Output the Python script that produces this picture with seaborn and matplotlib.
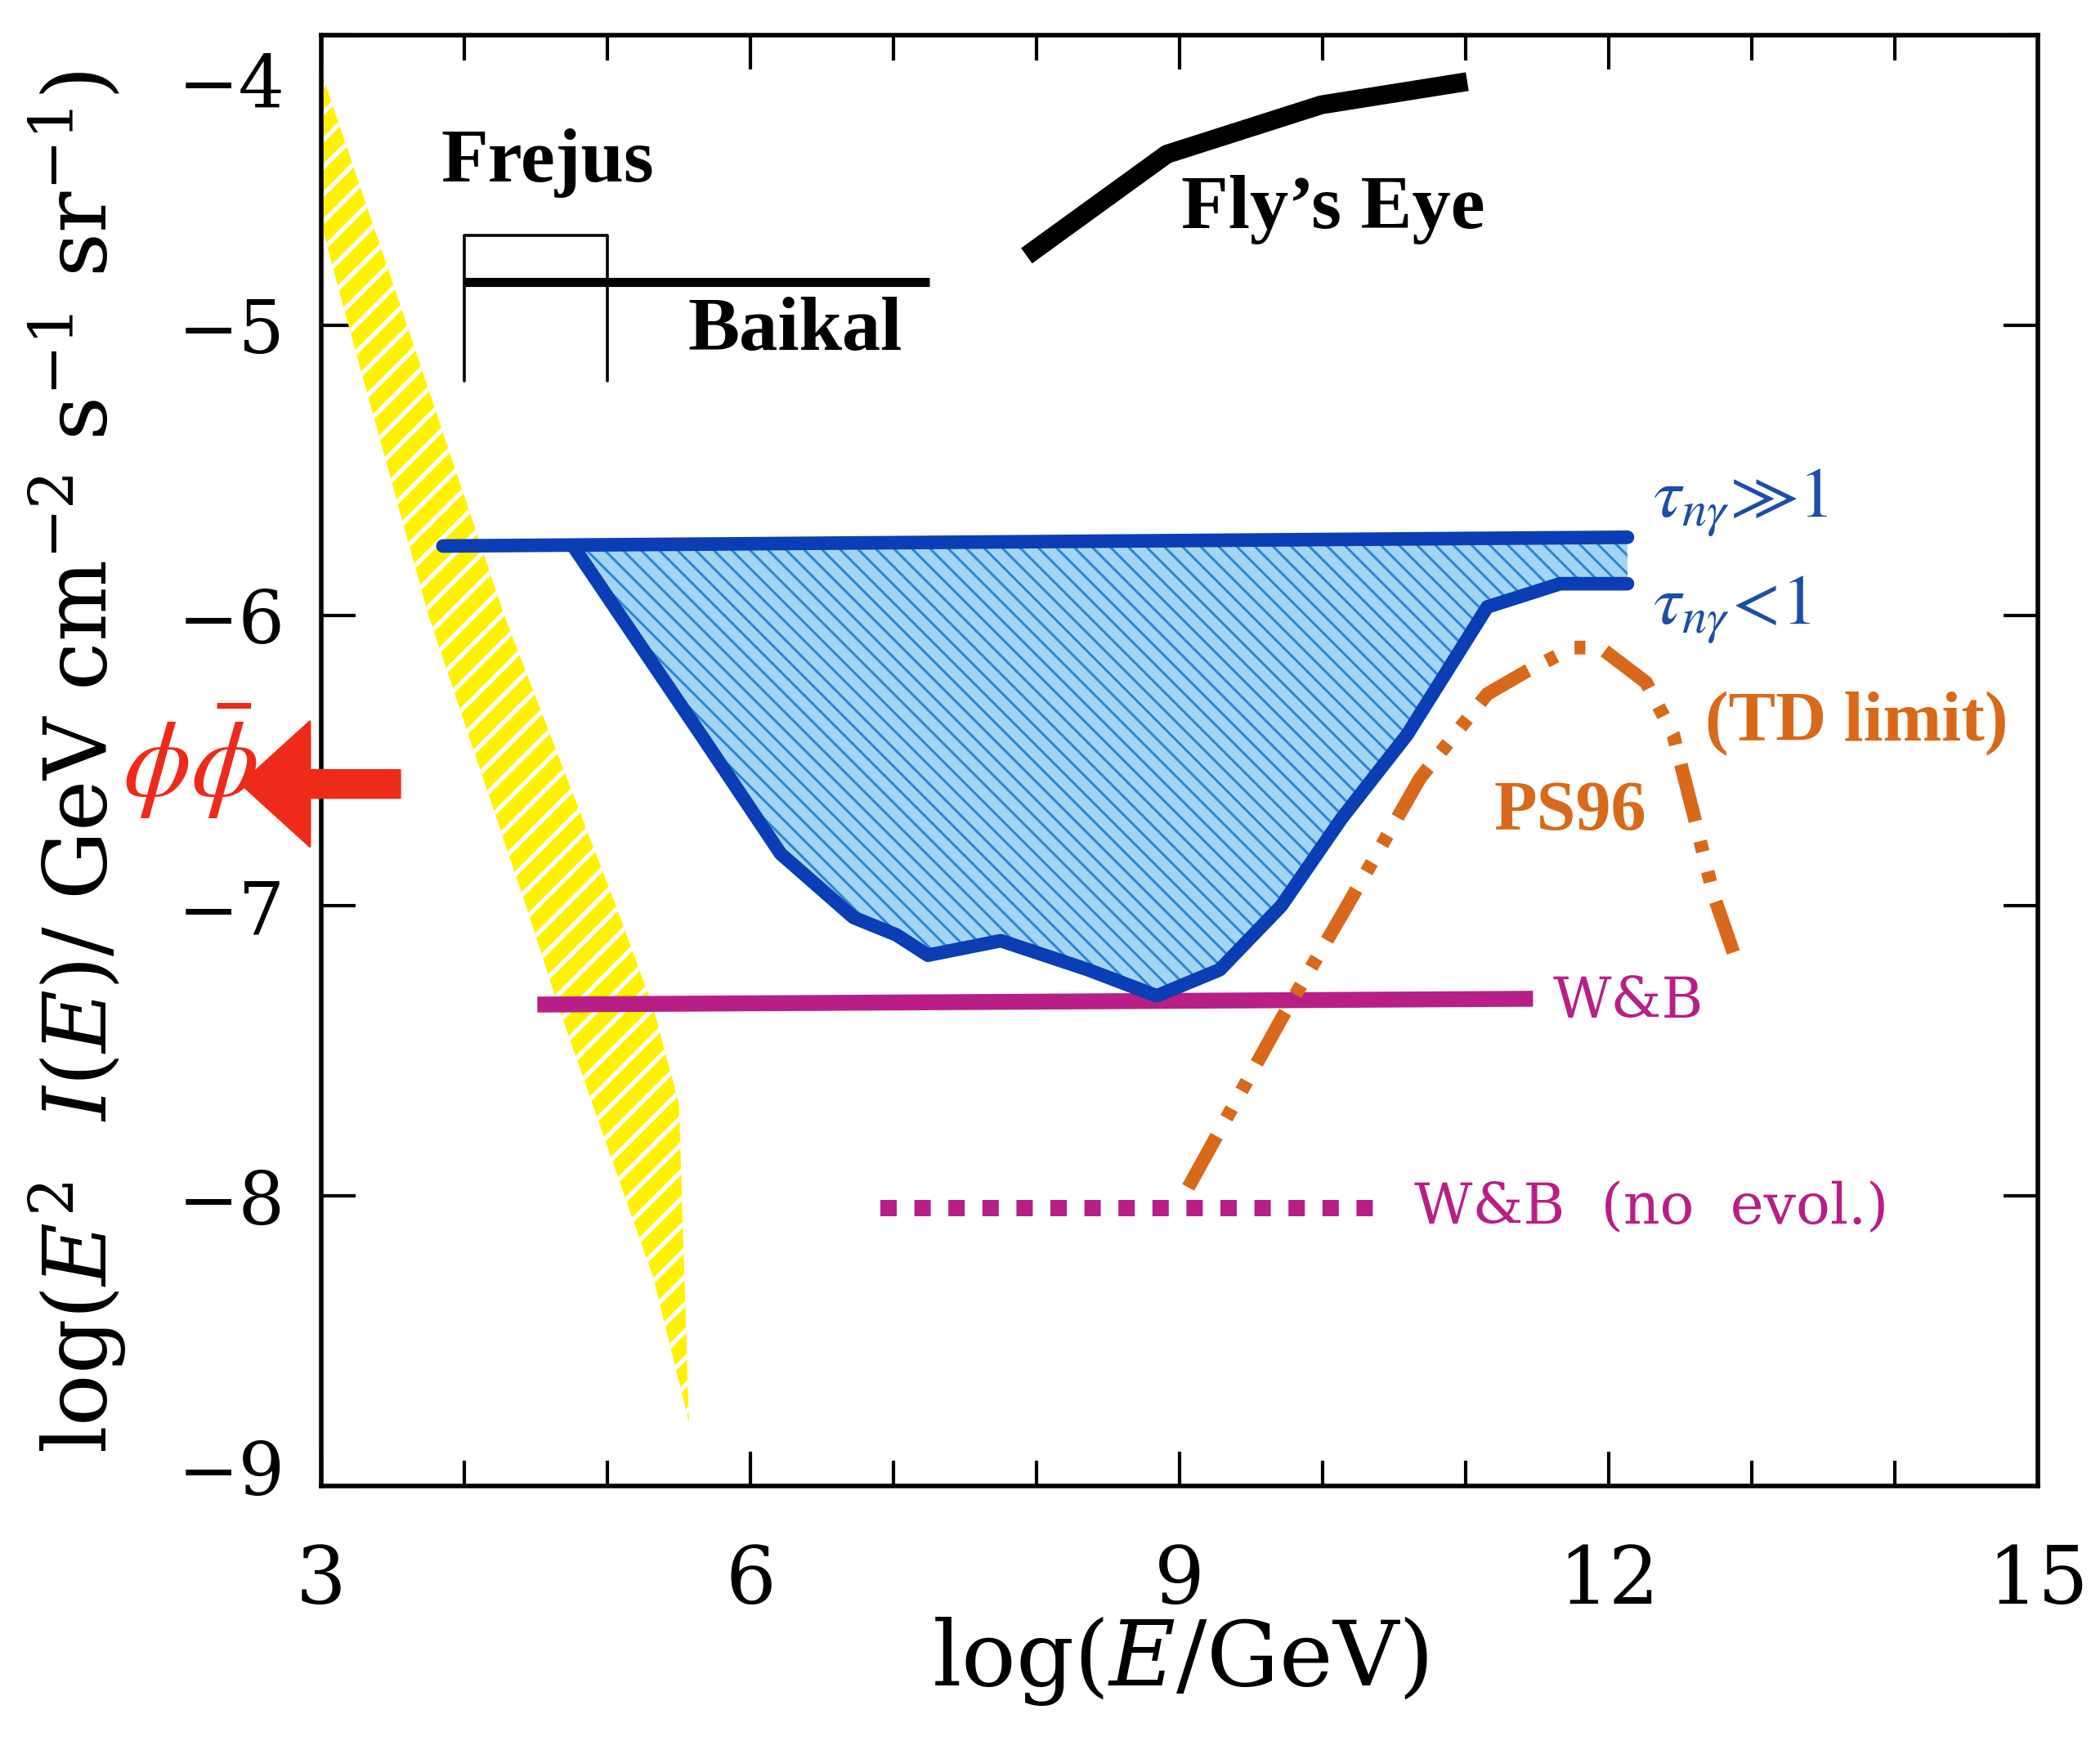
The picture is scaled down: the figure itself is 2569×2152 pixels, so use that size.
import numpy as np
import matplotlib
matplotlib.use('Agg')
import matplotlib.pyplot as plt
import matplotlib.transforms as mtransforms
import seaborn as sns

# values (log10 units)
fly_x = [7.93, 8.91, 9.99, 11.01]
fly_y = [-4.76, -4.41, -4.24, -4.16]

frejus_x = [4.0, 4.0, 5.0, 5.0]
frejus_y = [-5.19, -4.69, -4.69, -5.19]

baikal_x = [4.0, 7.25]
baikal_y = [-4.85, -4.85]

# yellow band, left and right edges
band_left_x = [2.9, 3.19, 3.75, 4.43, 4.66, 4.95, 5.32, 5.57]
band_left_y = [-4.47, -5.0, -6.0, -7.0, -7.35, -7.76, -8.28, -8.78]
band_right_x = [2.9, 3.60, 4.28, 5.06, 5.32, 5.50, 5.57]
band_right_y = [-3.98, -5.0, -6.0, -7.0, -7.35, -7.68, -8.78]

# tau >> 1 and tau < 1 bounds
tau_hi_x = [3.85, 12.13]
tau_hi_y = [-5.76, -5.73]
tau_lo_x = [4.76, 5.68, 6.21, 6.72, 7.02, 7.24, 7.75, 8.36, 8.84, 9.28,
            9.71, 10.13, 10.59, 11.15, 11.66, 12.13]
tau_lo_y = [-5.76, -6.43, -6.82, -7.04, -7.10, -7.17, -7.12, -7.22, -7.31, -7.22,
            -7.00, -6.70, -6.41, -5.97, -5.89, -5.89]

wb_x = [4.51, 11.47]
wb_y = [-7.34, -7.32]
wb_noev_x = [6.91, 10.45]
wb_noev_y = [-8.04, -8.04]

ps96_x = [9.06, 9.71, 10.17, 10.68, 11.15, 11.43, 11.75, 11.94, 12.26, 12.45, 12.59, 12.73, 12.87]
ps96_y = [-7.97, -7.39, -7.00, -6.56, -6.27, -6.19, -6.11, -6.11, -6.23, -6.41, -6.68, -6.96, -7.16]

x_major = [3, 6, 9, 12, 15]
x_minor = [4, 5, 7, 8, 10, 11, 13, 14]
y_major = [-9, -8, -7, -6, -5, -4]

sns.set_theme(style='ticks')
plt.rcParams['font.family'] = ['DejaVu Serif', 'DejaVu Sans']
plt.rcParams['mathtext.fontset'] = 'dejavuserif'
plt.rcParams['axes.unicode_minus'] = True
plt.rcParams['text.color'] = 'black'
plt.rcParams['axes.labelcolor'] = 'black'
plt.rcParams['xtick.color'] = 'black'
plt.rcParams['ytick.color'] = 'black'

blue_line = '#0b3db5'
blue_text = '#1d4ea8'
purple = '#b81f86'
orange = '#d8691b'
red = '#ee2a1b'

fig = plt.figure(figsize=(12.845, 10.76), dpi=200)
ax = fig.add_axes([0.153, 0.155, 0.8175, 0.825])
ax.set_facecolor('white')

# yellow hatched band
poly_x = band_left_x + band_right_x[::-1]
poly_y = band_left_y + band_right_y[::-1]
yb = ax.fill(poly_x, poly_y, facecolor='#fff200', edgecolor='white', hatch='//',
             linewidth=0, zorder=1)
for p in yb:
    if hasattr(p, 'set_hatch_linewidth'):
        p.set_hatch_linewidth(2.0)

# blue hatched region between the two tau bounds
upper = np.interp(tau_lo_x, tau_hi_x, tau_hi_y)
ax.fill_between(tau_lo_x, tau_lo_y, upper, facecolor='#a3d5f2', edgecolor='none',
                linewidth=0, zorder=2)
bh = ax.fill_between(tau_lo_x, tau_lo_y, upper, facecolor='none', edgecolor='#2f86d0',
                     hatch='\\\\\\', linewidth=0, zorder=2)
if hasattr(bh, 'set_hatch_linewidth'):
    bh.set_hatch_linewidth(1.1)

sns.lineplot(x=tau_hi_x, y=tau_hi_y, sort=False, estimator=None, color=blue_line,
             linewidth=6, ax=ax, zorder=4)
sns.lineplot(x=tau_lo_x, y=tau_lo_y, sort=False, estimator=None, color=blue_line,
             linewidth=6, ax=ax, zorder=4)

sns.lineplot(x=wb_x, y=wb_y, sort=False, estimator=None, color=purple,
             linewidth=7, ax=ax, zorder=3, solid_capstyle='butt')
sns.lineplot(x=wb_noev_x, y=wb_noev_y, sort=False, estimator=None, color=purple,
             linewidth=7.2, ax=ax, zorder=3, linestyle=(0, (1.0, 1.08)))

sns.lineplot(x=ps96_x, y=ps96_y, sort=False, estimator=None, color=orange,
             linewidth=6, ax=ax, zorder=5,
             linestyle=(0, (4.3, 1.5, 0.8, 1.5, 0.8, 1.5)))

sns.lineplot(x=fly_x, y=fly_y, sort=False, estimator=None, color='black',
             linewidth=8.3, ax=ax, zorder=4, solid_capstyle='butt')
sns.lineplot(x=baikal_x, y=baikal_y, sort=False, estimator=None, color='black',
             linewidth=4, ax=ax, zorder=4, solid_capstyle='butt')
sns.lineplot(x=frejus_x, y=frejus_y, sort=False, estimator=None, color='black',
             linewidth=1.3, ax=ax, zorder=4)

# labels inside the plot
bold = dict(family='Liberation Serif', fontweight='bold')
ax.text(4.58, -4.44, 'Frejus', fontsize=34, ha='center', va='center', **bold)
ax.text(6.31, -5.02, 'Baikal', fontsize=34, ha='center', va='center', **bold)
ax.text(10.07, -4.60, 'Fly\u2019s Eye', fontsize=34, ha='center', va='center', **bold)
ax.text(11.73, -6.68, 'PS96', fontsize=31, ha='center', va='center', color=orange, **bold)
ax.text(13.73, -6.37, '(TD limit)', fontsize=31, ha='center', va='center', color=orange, **bold)

ax.text(12.31, -5.66, r'$\tau_{n\gamma}\!\gg\!1$', fontsize=31, color=blue_text,
        ha='left', va='baseline', math_fontfamily='stix')
ax.text(12.31, -6.03, r'$\tau_{n\gamma}\!<\!1$', fontsize=31, color=blue_text,
        ha='left', va='baseline', math_fontfamily='stix')

ax.text(11.61, -7.33, 'W&B', fontsize=25, color=purple, ha='left', va='center')
ax.text(10.64, -8.04, 'W&B  (no  evol.)', fontsize=25, color=purple, ha='left', va='center')

# hand-drawn red mark
ax.text(2.08, -6.50, r'$\phi\bar{\phi}$', fontsize=48, color=red, ha='center',
        va='center', math_fontfamily='stix', clip_on=False)
ax.annotate('', xy=(2.44, -6.58), xytext=(3.55, -6.58), annotation_clip=False,
            arrowprops=dict(arrowstyle='simple,head_length=0.55,head_width=1.0,tail_width=0.22',
                            mutation_scale=55, color=red, shrinkA=0, shrinkB=0),
            zorder=6)

ax.set_xlim(3, 15)
ax.set_ylim(-9, -4)
ax.set_xticks(x_major)
ax.set_xticks(x_minor, minor=True)
ax.set_yticks(y_major)
ax.set_xticklabels([str(v) for v in x_major])
ax.set_yticklabels(['\u2212' + str(abs(v)) for v in y_major])

for s in ax.spines.values():
    s.set_linewidth(2)
    s.set_color('black')
ax.tick_params(which='both', direction='in', top=True, right=True, color='black',
               labelcolor='black', width=1.5)
ax.tick_params(which='major', length=15)
ax.tick_params(which='minor', length=11)
ax.tick_params(axis='x', which='major', labelsize=35, pad=25)
ax.tick_params(axis='y', which='major', labelsize=32, pad=16)

# nudge the end labels of the y axis inward, as in the original
yt = ax.yaxis.get_major_ticks()
shift_top = mtransforms.ScaledTranslation(0, -0.27, fig.dpi_scale_trans)
shift_bot = mtransforms.ScaledTranslation(0, 0.12, fig.dpi_scale_trans)
yt[-1].label1.set_transform(yt[-1].label1.get_transform() + shift_top)
yt[0].label1.set_transform(yt[0].label1.get_transform() + shift_bot)

ax.set_xlabel(r'log($E$/GeV)', fontsize=40)
ax.xaxis.set_label_coords(0.5617, 0.0822, transform=fig.transFigure)
ax.set_ylabel(r'log($E^2$  $I(E)$/ GeV cm$^{-2}$ s$^{-1}$ sr$^{-1}$)', fontsize=38)
ax.yaxis.set_label_coords(0.061, 0.567, transform=fig.transFigure)

fig.savefig('out.png', dpi=200, facecolor='white')
